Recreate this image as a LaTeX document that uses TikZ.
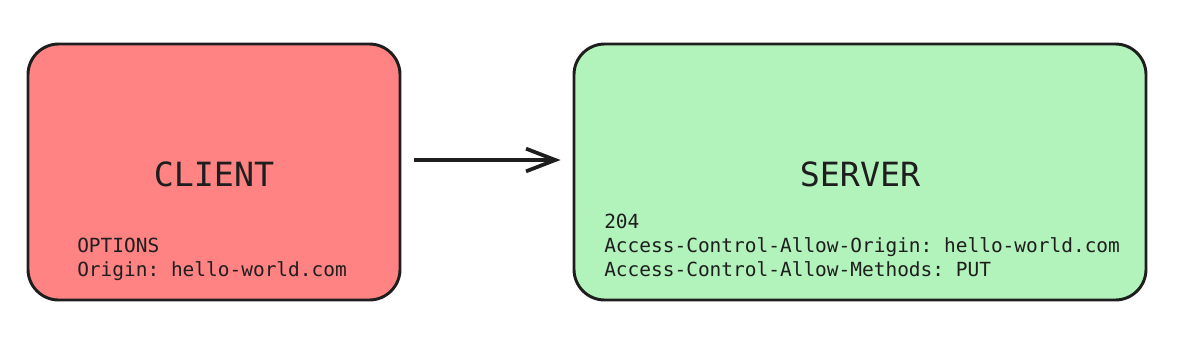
\documentclass[tikz,border=0pt]{standalone}
\usepackage{fontspec}
\setmonofont{DejaVu Sans Mono}
\usepackage{tikz}
\usetikzlibrary{arrows.meta,positioning}
\definecolor{inkdark}{HTML}{1E1E1E}
\definecolor{clientred}{HTML}{FF8383}
\definecolor{servergreen}{HTML}{B2F2BB}

\begin{document}
\begin{tikzpicture}[x=0.75pt,y=-0.75pt,
    box/.style={draw=inkdark, line width=2.2pt, rounded corners=23pt, minimum height=192pt},
    title/.style={font=\ttfamily\fontsize{25}{30}\selectfont, text=inkdark, inner sep=0pt},
    msg/.style={font=\ttfamily\fontsize{14.6}{18}\selectfont, text=inkdark, align=left, inner sep=0pt},
    flow/.style={-{Straight Barb[length=22pt,width=17pt]}, line width=2.8pt, draw=inkdark}]
  \useasboundingbox (0,0) rectangle (1187,336);

  % Client box
  \node[box, fill=clientred, minimum width=279pt] (client) at (214,172) {};
  \node[title, anchor=base] (clientlabel) at (214,186) {CLIENT};
  \node[msg, anchor=north west] (request) at (77,238) {OPTIONS\\Origin: hello-world.com};

  % Server box
  \node[box, fill=servergreen, minimum width=429pt] (server) at (860,172) {};
  \node[title, anchor=base] (serverlabel) at (860,186) {SERVER};
  \node[msg, anchor=north west] (response) at (604,214) {204\\Access-Control-Allow-Origin: hello-world.com\\Access-Control-Allow-Methods: PUT};

  % Request arrow
  \draw[flow, shorten <=9.75pt, shorten >=9pt] ([yshift=9pt]client.east) -- ([yshift=9pt]server.west);
\end{tikzpicture}
\end{document}
